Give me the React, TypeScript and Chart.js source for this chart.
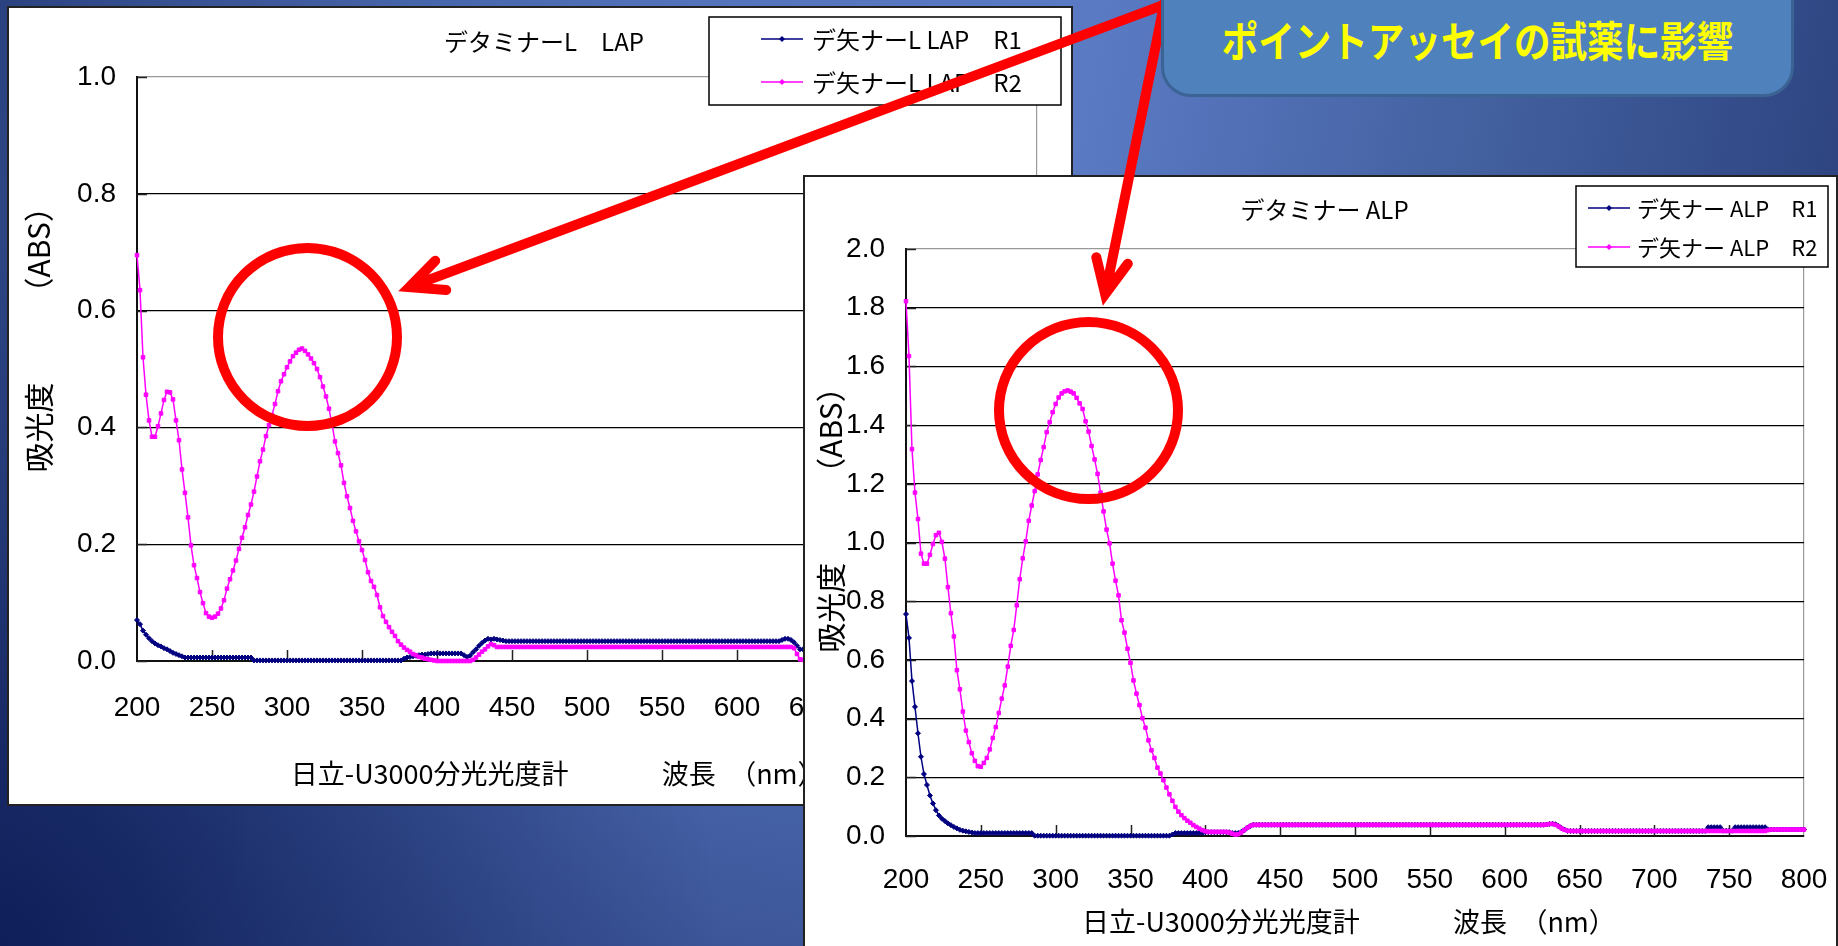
import React, { useEffect, useRef } from "react";
import { Chart, registerables } from "chart.js";

Chart.register(...registerables);

// ---------------- data ----------------
const wavelengths = [
  200, 202, 204, 206, 208, 210, 212, 214, 216, 218,
  220, 222, 224, 226, 228, 230, 232, 234, 236, 238,
  240, 242, 244, 246, 248, 250, 252, 254, 256, 258,
  260, 262, 264, 266, 268, 270, 272, 274, 276, 278,
  280, 282, 284, 286, 288, 290, 292, 294, 296, 298,
  300, 302, 304, 306, 308, 310, 312, 314, 316, 318,
  320, 322, 324, 326, 328, 330, 332, 334, 336, 338,
  340, 342, 344, 346, 348, 350, 352, 354, 356, 358,
  360, 362, 364, 366, 368, 370, 372, 374, 376, 378,
  380, 382, 384, 386, 388, 390, 392, 394, 396, 398,
  400, 402, 404, 406, 408, 410, 412, 414, 416, 418,
  420, 422, 424, 426, 428, 430, 432, 434, 436, 438,
  440, 442, 444, 446, 448, 450, 452, 454, 456, 458,
  460, 462, 464, 466, 468, 470, 472, 474, 476, 478,
  480, 482, 484, 486, 488, 490, 492, 494, 496, 498,
  500, 502, 504, 506, 508, 510, 512, 514, 516, 518,
  520, 522, 524, 526, 528, 530, 532, 534, 536, 538,
  540, 542, 544, 546, 548, 550, 552, 554, 556, 558,
  560, 562, 564, 566, 568, 570, 572, 574, 576, 578,
  580, 582, 584, 586, 588, 590, 592, 594, 596, 598,
  600, 602, 604, 606, 608, 610, 612, 614, 616, 618,
  620, 622, 624, 626, 628, 630, 632, 634, 636, 638,
  640, 642, 644, 646, 648, 650, 652, 654, 656, 658,
  660, 662, 664, 666, 668, 670, 672, 674, 676, 678,
  680, 682, 684, 686, 688, 690, 692, 694, 696, 698,
  700, 702, 704, 706, 708, 710, 712, 714, 716, 718,
  720, 722, 724, 726, 728, 730, 732, 734, 736, 738,
  740, 742, 744, 746, 748, 750, 752, 754, 756, 758,
  760, 762, 764, 766, 768, 770, 772, 774, 776, 778,
  780, 782, 784, 786, 788, 790, 792, 794, 796, 798,
  800,
];

const lapR1 = [
  0.070, 0.063, 0.052, 0.045, 0.039, 0.034, 0.030, 0.027, 0.025, 0.022,
  0.020, 0.017, 0.014, 0.012, 0.010, 0.008, 0.006, 0.006, 0.006, 0.006,
  0.006, 0.006, 0.006, 0.006, 0.006, 0.006, 0.006, 0.006, 0.006, 0.006,
  0.006, 0.006, 0.006, 0.006, 0.006, 0.006, 0.006, 0.006, 0.006, 0.001,
  0.001, 0.001, 0.001, 0.001, 0.001, 0.001, 0.001, 0.001, 0.001, 0.001,
  0.001, 0.001, 0.001, 0.001, 0.001, 0.001, 0.001, 0.001, 0.001, 0.001,
  0.001, 0.001, 0.001, 0.001, 0.001, 0.001, 0.001, 0.001, 0.001, 0.001,
  0.001, 0.001, 0.001, 0.001, 0.001, 0.001, 0.001, 0.001, 0.001, 0.001,
  0.001, 0.001, 0.001, 0.001, 0.001, 0.001, 0.001, 0.001, 0.001, 0.004,
  0.006, 0.007, 0.008, 0.009, 0.010, 0.011, 0.011, 0.012, 0.013, 0.013,
  0.013, 0.013, 0.013, 0.013, 0.013, 0.013, 0.013, 0.013, 0.013, 0.010,
  0.007, 0.009, 0.015, 0.020, 0.026, 0.031, 0.035, 0.038, 0.037, 0.038,
  0.037, 0.036, 0.035, 0.034, 0.034, 0.034, 0.034, 0.034, 0.034, 0.034,
  0.034, 0.034, 0.034, 0.034, 0.034, 0.034, 0.034, 0.034, 0.034, 0.034,
  0.034, 0.034, 0.034, 0.034, 0.034, 0.034, 0.034, 0.034, 0.034, 0.034,
  0.034, 0.034, 0.034, 0.034, 0.034, 0.034, 0.034, 0.034, 0.034, 0.034,
  0.034, 0.034, 0.034, 0.034, 0.034, 0.034, 0.034, 0.034, 0.034, 0.034,
  0.034, 0.034, 0.034, 0.034, 0.034, 0.034, 0.034, 0.034, 0.034, 0.034,
  0.034, 0.034, 0.034, 0.034, 0.034, 0.034, 0.034, 0.034, 0.034, 0.034,
  0.034, 0.034, 0.034, 0.034, 0.034, 0.034, 0.034, 0.034, 0.034, 0.034,
  0.034, 0.034, 0.034, 0.034, 0.034, 0.034, 0.034, 0.034, 0.034, 0.034,
  0.034, 0.034, 0.034, 0.034, 0.034, 0.036, 0.038, 0.038, 0.036, 0.032,
  0.026, 0.020, 0.020, 0.020, 0.020, 0.020, 0.020, 0.020, 0.020, 0.020,
  0.020, 0.020, 0.020, 0.020, 0.020, 0.020, 0.020, 0.020, 0.020, 0.020,
  0.020, 0.020, 0.020, 0.020, 0.020, 0.020, 0.020, 0.020, 0.020, 0.020,
  0.020, 0.020, 0.020, 0.020, 0.020, 0.020, 0.020, 0.020, 0.020, 0.020,
  0.020, 0.020, 0.020, 0.020, 0.020, 0.020, 0.020, 0.020, 0.020, 0.020,
  0.020, 0.020, 0.020, 0.020, 0.020, 0.020, 0.020, 0.020, 0.020, 0.020,
  0.020, 0.020, 0.020, 0.020, 0.020, 0.020, 0.020, 0.020, 0.020, 0.020,
  0.020, 0.020, 0.020, 0.020, 0.020, 0.020, 0.020, 0.020, 0.020, 0.020,
  0.020,
];

const lapR2 = [
  0.695, 0.635, 0.520, 0.456, 0.412, 0.384, 0.384, 0.402, 0.424, 0.447,
  0.461, 0.460, 0.448, 0.412, 0.378, 0.328, 0.288, 0.246, 0.198, 0.164,
  0.142, 0.118, 0.099, 0.082, 0.076, 0.074, 0.076, 0.081, 0.090, 0.104,
  0.124, 0.140, 0.155, 0.172, 0.192, 0.211, 0.229, 0.250, 0.268, 0.290,
  0.316, 0.342, 0.362, 0.385, 0.404, 0.421, 0.440, 0.462, 0.479, 0.491,
  0.503, 0.513, 0.522, 0.528, 0.533, 0.535, 0.531, 0.525, 0.518, 0.510,
  0.500, 0.486, 0.470, 0.453, 0.432, 0.405, 0.376, 0.356, 0.335, 0.305,
  0.282, 0.262, 0.240, 0.222, 0.205, 0.190, 0.173, 0.152, 0.137, 0.127,
  0.113, 0.092, 0.077, 0.067, 0.058, 0.050, 0.043, 0.034, 0.028, 0.023,
  0.019, 0.016, 0.012, 0.010, 0.007, 0.006, 0.004, 0.003, 0.002, 0.001,
  0.000, 0.000, 0.000, 0.000, 0.000, 0.000, 0.000, 0.000, 0.000, 0.000,
  0.000, 0.000, 0.002, 0.006, 0.011, 0.016, 0.020, 0.025, 0.029, 0.027,
  0.024, 0.024, 0.024, 0.024, 0.024, 0.024, 0.024, 0.024, 0.024, 0.024,
  0.024, 0.024, 0.024, 0.024, 0.024, 0.024, 0.024, 0.024, 0.024, 0.024,
  0.024, 0.024, 0.024, 0.024, 0.024, 0.024, 0.024, 0.024, 0.024, 0.024,
  0.024, 0.024, 0.024, 0.024, 0.024, 0.024, 0.024, 0.024, 0.024, 0.024,
  0.024, 0.024, 0.024, 0.024, 0.024, 0.024, 0.024, 0.024, 0.024, 0.024,
  0.024, 0.024, 0.024, 0.024, 0.024, 0.024, 0.024, 0.024, 0.024, 0.024,
  0.024, 0.024, 0.024, 0.024, 0.024, 0.024, 0.024, 0.024, 0.024, 0.024,
  0.024, 0.024, 0.024, 0.024, 0.024, 0.024, 0.024, 0.024, 0.024, 0.024,
  0.024, 0.024, 0.024, 0.024, 0.024, 0.024, 0.024, 0.024, 0.024, 0.024,
  0.024, 0.024, 0.024, 0.024, 0.024, 0.024, 0.024, 0.024, 0.024, 0.022,
  0.012, 0.003, 0.002, 0.002, 0.002, 0.002, 0.002, 0.002, 0.002, 0.002,
  0.002, 0.002, 0.002, 0.002, 0.002, 0.002, 0.002, 0.002, 0.002, 0.002,
  0.002, 0.002, 0.002, 0.002, 0.002, 0.002, 0.002, 0.002, 0.002, 0.002,
  0.002, 0.002, 0.002, 0.002, 0.002, 0.002, 0.002, 0.002, 0.002, 0.002,
  0.002, 0.002, 0.002, 0.002, 0.002, 0.002, 0.002, 0.002, 0.002, 0.002,
  0.002, 0.002, 0.002, 0.002, 0.002, 0.002, 0.002, 0.002, 0.002, 0.002,
  0.002, 0.002, 0.002, 0.002, 0.002, 0.002, 0.002, 0.002, 0.002, 0.002,
  0.002, 0.002, 0.002, 0.002, 0.002, 0.002, 0.002, 0.002, 0.002, 0.002,
  0.002,
];

const alpR1 = [
  0.756, 0.675, 0.528, 0.440, 0.350, 0.270, 0.211, 0.174, 0.138, 0.111,
  0.088, 0.070, 0.059, 0.051, 0.043, 0.037, 0.031, 0.026, 0.021, 0.018,
  0.016, 0.014, 0.012, 0.010, 0.010, 0.010, 0.010, 0.010, 0.010, 0.010,
  0.010, 0.010, 0.010, 0.010, 0.010, 0.010, 0.010, 0.010, 0.010, 0.010,
  0.010, 0.010, 0.010, 0.001, 0.001, 0.001, 0.001, 0.001, 0.001, 0.001,
  0.001, 0.001, 0.001, 0.001, 0.001, 0.001, 0.001, 0.001, 0.001, 0.001,
  0.001, 0.001, 0.001, 0.001, 0.001, 0.001, 0.001, 0.001, 0.001, 0.001,
  0.001, 0.001, 0.001, 0.001, 0.001, 0.001, 0.001, 0.001, 0.001, 0.001,
  0.001, 0.001, 0.001, 0.001, 0.001, 0.001, 0.001, 0.001, 0.001, 0.005,
  0.010, 0.010, 0.010, 0.010, 0.010, 0.010, 0.010, 0.010, 0.010, 0.010,
  0.013, 0.013, 0.013, 0.013, 0.013, 0.013, 0.013, 0.013, 0.013, 0.010,
  0.010, 0.010, 0.014, 0.020, 0.028, 0.034, 0.038, 0.038, 0.038, 0.038,
  0.038, 0.038, 0.038, 0.038, 0.038, 0.038, 0.038, 0.038, 0.038, 0.038,
  0.038, 0.038, 0.038, 0.038, 0.038, 0.038, 0.038, 0.038, 0.038, 0.038,
  0.038, 0.038, 0.038, 0.038, 0.038, 0.038, 0.038, 0.038, 0.038, 0.038,
  0.038, 0.038, 0.038, 0.038, 0.038, 0.038, 0.038, 0.038, 0.038, 0.038,
  0.038, 0.038, 0.038, 0.038, 0.038, 0.038, 0.038, 0.038, 0.038, 0.038,
  0.038, 0.038, 0.038, 0.038, 0.038, 0.038, 0.038, 0.038, 0.038, 0.038,
  0.038, 0.038, 0.038, 0.038, 0.038, 0.038, 0.038, 0.038, 0.038, 0.038,
  0.038, 0.038, 0.038, 0.038, 0.038, 0.038, 0.038, 0.038, 0.038, 0.038,
  0.038, 0.038, 0.038, 0.038, 0.038, 0.038, 0.038, 0.038, 0.038, 0.038,
  0.038, 0.038, 0.038, 0.038, 0.039, 0.041, 0.042, 0.040, 0.034, 0.027,
  0.022, 0.017, 0.017, 0.017, 0.017, 0.017, 0.017, 0.017, 0.017, 0.017,
  0.017, 0.017, 0.017, 0.017, 0.017, 0.017, 0.017, 0.017, 0.017, 0.017,
  0.017, 0.017, 0.017, 0.017, 0.017, 0.017, 0.017, 0.017, 0.017, 0.017,
  0.017, 0.017, 0.017, 0.017, 0.017, 0.017, 0.017, 0.017, 0.017, 0.017,
  0.017, 0.017, 0.017, 0.017, 0.017, 0.017, 0.017, 0.017, 0.030, 0.030,
  0.030, 0.030, 0.030, 0.018, 0.018, 0.018, 0.018, 0.030, 0.030, 0.030,
  0.030, 0.030, 0.030, 0.030, 0.030, 0.030, 0.030, 0.030, 0.022, 0.022,
  0.022, 0.022, 0.022, 0.022, 0.022, 0.022, 0.022, 0.022, 0.022, 0.022,
  0.022,
];

const alpR2 = [
  1.822, 1.635, 1.318, 1.170, 1.080, 0.962, 0.928, 0.928, 0.958, 0.995,
  1.025, 1.033, 1.002, 0.945, 0.848, 0.759, 0.680, 0.565, 0.500, 0.424,
  0.359, 0.320, 0.282, 0.256, 0.238, 0.236, 0.249, 0.266, 0.295, 0.334,
  0.371, 0.419, 0.468, 0.513, 0.577, 0.648, 0.702, 0.786, 0.875, 0.946,
  1.004, 1.074, 1.126, 1.175, 1.232, 1.281, 1.325, 1.376, 1.410, 1.444,
  1.472, 1.494, 1.508, 1.515, 1.518, 1.514, 1.508, 1.493, 1.474, 1.455,
  1.413, 1.378, 1.329, 1.283, 1.234, 1.170, 1.106, 1.044, 0.997, 0.928,
  0.870, 0.820, 0.735, 0.693, 0.638, 0.590, 0.530, 0.485, 0.446, 0.401,
  0.369, 0.326, 0.292, 0.266, 0.233, 0.213, 0.190, 0.165, 0.142, 0.120,
  0.099, 0.083, 0.071, 0.061, 0.052, 0.045, 0.037, 0.031, 0.025, 0.020,
  0.016, 0.014, 0.014, 0.014, 0.014, 0.014, 0.014, 0.014, 0.012, 0.008,
  0.005, 0.006, 0.012, 0.020, 0.028, 0.034, 0.038, 0.038, 0.038, 0.038,
  0.038, 0.038, 0.038, 0.038, 0.038, 0.038, 0.038, 0.038, 0.038, 0.038,
  0.038, 0.038, 0.038, 0.038, 0.038, 0.038, 0.038, 0.038, 0.038, 0.038,
  0.038, 0.038, 0.038, 0.038, 0.038, 0.038, 0.038, 0.038, 0.038, 0.038,
  0.038, 0.038, 0.038, 0.038, 0.038, 0.038, 0.038, 0.038, 0.038, 0.038,
  0.038, 0.038, 0.038, 0.038, 0.038, 0.038, 0.038, 0.038, 0.038, 0.038,
  0.038, 0.038, 0.038, 0.038, 0.038, 0.038, 0.038, 0.038, 0.038, 0.038,
  0.038, 0.038, 0.038, 0.038, 0.038, 0.038, 0.038, 0.038, 0.038, 0.038,
  0.038, 0.038, 0.038, 0.038, 0.038, 0.038, 0.038, 0.038, 0.038, 0.038,
  0.038, 0.038, 0.038, 0.038, 0.038, 0.038, 0.038, 0.038, 0.038, 0.038,
  0.038, 0.038, 0.038, 0.038, 0.039, 0.041, 0.041, 0.038, 0.033, 0.026,
  0.021, 0.018, 0.017, 0.017, 0.017, 0.017, 0.017, 0.017, 0.017, 0.017,
  0.017, 0.017, 0.017, 0.017, 0.017, 0.017, 0.017, 0.017, 0.017, 0.017,
  0.017, 0.017, 0.017, 0.017, 0.017, 0.017, 0.017, 0.017, 0.017, 0.017,
  0.017, 0.017, 0.017, 0.017, 0.017, 0.017, 0.017, 0.017, 0.017, 0.017,
  0.017, 0.017, 0.017, 0.017, 0.017, 0.017, 0.017, 0.017, 0.017, 0.017,
  0.017, 0.017, 0.017, 0.017, 0.017, 0.017, 0.017, 0.017, 0.017, 0.017,
  0.017, 0.017, 0.017, 0.017, 0.017, 0.017, 0.017, 0.017, 0.020, 0.022,
  0.022, 0.022, 0.022, 0.022, 0.022, 0.022, 0.022, 0.022, 0.022, 0.022,
  0.022,
];

const xTicks = [200, 250, 300, 350, 400, 450, 500, 550, 600, 650, 700, 750, 800];
const lapYTicks = [0, 0.2, 0.4, 0.6, 0.8, 1.0];
const alpYTicks = [0, 0.2, 0.4, 0.6, 0.8, 1.0, 1.2, 1.4, 1.6, 1.8, 2.0];

const lapTitle = "デタミナーL　LAP";
const alpTitle = "デタミナー ALP";
const lapLabels = ["デ矢ナーL LAP　R1", "デ矢ナーL LAP　R2"];
const alpLabels = ["デ矢ナー ALP　R1", "デ矢ナー ALP　R2"];
const xAxisTitle = "日立-U3000分光光度計　　　  波長　（nm）";
const yAxisTitle = "吸光度　　　（ABS）";
const calloutText = "ポイントアッセイの試薬に影響";

// ---------------- styling ----------------
const JP = "'Noto Sans CJK JP', 'Noto Sans', sans-serif";
const NUM = "'Liberation Sans Narrow', 'Liberation Sans', Arial, sans-serif";
const NAVY = "#000080";
const MAGENTA = "#FF00FF";

Chart.defaults.font.family = JP;

const boxLegend = {
  id: "boxLegend",
  afterDraw(chart: any, _args: any, opts: any) {
    if (!opts || !opts.box) return;
    const { ctx } = chart;
    const b = opts.box;
    ctx.save();
    ctx.fillStyle = "#fff";
    ctx.fillRect(b.x, b.y, b.w, b.h);
    ctx.strokeStyle = "#000";
    ctx.lineWidth = 1.5;
    ctx.strokeRect(b.x, b.y, b.w, b.h);
    ctx.font = `${opts.fontSize}px ${JP}`;
    ctx.textBaseline = "middle";
    ctx.textAlign = "left";
    chart.data.datasets.forEach((ds: any, i: number) => {
      const yy = opts.rows[i];
      ctx.strokeStyle = ds.borderColor;
      ctx.lineWidth = 1.5;
      ctx.beginPath();
      ctx.moveTo(opts.lineX1, yy);
      ctx.lineTo(opts.lineX2, yy);
      ctx.stroke();
      const cx = (opts.lineX1 + opts.lineX2) / 2;
      const r = 3;
      ctx.fillStyle = ds.borderColor;
      ctx.beginPath();
      ctx.moveTo(cx, yy - r);
      ctx.lineTo(cx + r, yy);
      ctx.lineTo(cx, yy + r);
      ctx.lineTo(cx - r, yy);
      ctx.closePath();
      ctx.fill();
      ctx.fillStyle = "#000";
      ctx.fillText(ds.label, opts.textX, yy + 1);
    });
    ctx.restore();
  },
};

const innerTicks = {
  id: "innerTicks",
  beforeDatasetsDraw(chart: any) {
    const { ctx, chartArea: a, scales } = chart;
    const x = scales.x;
    const y = scales.y;
    ctx.save();
    ctx.strokeStyle = "#222";
    ctx.lineWidth = 1.5;
    ctx.beginPath();
    x.ticks.forEach((t: any) => {
      const px = Math.round(x.getPixelForValue(t.value)) + 0.5;
      if (px > a.left + 2 && px < a.right - 2) {
        ctx.moveTo(px, a.bottom);
        ctx.lineTo(px, a.bottom - 11);
      }
    });
    y.ticks.forEach((t: any) => {
      const py = Math.round(y.getPixelForValue(t.value)) + 0.5;
      ctx.moveTo(a.left, py);
      ctx.lineTo(a.left + 10, py);
    });
    ctx.stroke();
    ctx.restore();
  },
};

function makeConfig(p: any) {
  const mk = (label: string, values: number[], color: string, style: string, order: number) => ({
    label,
    data: wavelengths.map((w, i) => ({ x: w, y: values[i] })),
    borderColor: color,
    backgroundColor: color,
    pointBackgroundColor: color,
    pointBorderColor: color,
    pointStyle: style,
    pointRadius: 2.5,
    pointBorderWidth: 1,
    pointHoverRadius: 0,
    borderWidth: 1.5,
    tension: 0,
    clip: false,
    order,
  });
  return {
    type: "line",
    data: {
      datasets: [
        mk(p.labels[0], p.r1, NAVY, "rectRot", 1),
        mk(p.labels[1], p.r2, MAGENTA, "rect", 0),
      ],
    },
    options: {
      responsive: false,
      animation: false,
      devicePixelRatio: 1,
      events: [],
      layout: { padding: { left: p.padLeft, right: p.padRight, top: 0, bottom: 0 } },
      plugins: {
        legend: { display: false },
        tooltip: { enabled: false },
        title: {
          display: true,
          text: p.title,
          color: "#000",
          font: { family: JP, size: 24, weight: "normal" },
          padding: { top: p.titleTop, bottom: p.titleBottom },
        },
        boxLegend: p.legend,
      },
      scales: {
        x: {
          type: "linear",
          min: 200,
          max: 800,
          afterBuildTicks: (s: any) => {
            s.ticks = xTicks.map((v) => ({ value: v }));
          },
          afterFit: (s: any) => {
            s.height = p.xHeight;
            s.paddingLeft = 0;
            s.paddingRight = 0;
          },
          grid: {
            drawTicks: false,
            lineWidth: 1.2,
            color: (c: any) => (c.tick && c.tick.value === 800 ? "#999" : "rgba(0,0,0,0)"),
          },
          border: { display: true, color: "#111", width: 2 },
          ticks: {
            padding: p.xTickPad,
            color: "#000",
            autoSkip: false,
            maxRotation: 0,
            font: { family: NUM, size: 28 },
            callback: (v: any) => String(v),
          },
          title: {
            display: true,
            text: xAxisTitle + p.xPad,
            color: "#000",
            font: { family: JP, size: 27 },
            padding: { top: 0, bottom: p.xTitleBottom },
          },
        },
        y: {
          type: "linear",
          min: 0,
          max: p.yMax,
          afterBuildTicks: (s: any) => {
            s.ticks = p.yTicks.map((v: number) => ({ value: v }));
          },
          afterFit: (s: any) => {
            s.width = p.yWidth;
          },
          grid: {
            drawTicks: false,
            lineWidth: 1.2,
            color: (c: any) => (c.tick && Math.abs(c.tick.value - p.yMax) < 1e-9 ? "#999" : "#000"),
          },
          border: { display: true, color: "#111", width: 2 },
          ticks: {
            padding: 21,
            color: "#000",
            font: { family: NUM, size: 28 },
            callback: (v: any) => Number(v).toFixed(1),
          },
          title: {
            display: true,
            text: p.yPad + yAxisTitle,
            color: "#000",
            font: { family: JP, size: 30 },
            padding: { top: p.yTitleTop, bottom: 0 },
          },
        },
      },
    },
    plugins: [boxLegend, innerTicks],
  };
}

const lapCfg = {
  r1: lapR1,
  r2: lapR2,
  labels: lapLabels,
  title: lapTitle,
  yMax: 1.0,
  yTicks: lapYTicks,
  padLeft: 42,
  padRight: 34,
  yWidth: 86,
  xHeight: 143,
  titleTop: 19.6,
  titleBottom: 20.6,
  xTickPad: 30,
  xTitleBottom: 14,
  xPad: "　　   ",
  yPad: "　　  ",
  yTitleTop: -30,
  legend: {
    box: { x: 700, y: 9, w: 352, h: 88 },
    rows: [31, 74],
    lineX1: 752,
    lineX2: 794,
    textX: 803,
    fontSize: 24,
  },
};

const alpCfg = {
  r1: alpR1,
  r2: alpR2,
  labels: alpLabels,
  title: alpTitle,
  yMax: 2.0,
  yTicks: alpYTicks,
  padLeft: 40,
  padRight: 32,
  yWidth: 61,
  xHeight: 110,
  titleTop: 18.6,
  titleBottom: 24.6,
  xTickPad: 27,
  xTitleBottom: 8,
  xPad: "  ",
  yPad: "　　",
  yTitleTop: -32,
  legend: {
    box: { x: 771, y: 9, w: 252, h: 81 },
    rows: [31, 70],
    lineX1: 783,
    lineX2: 825,
    textX: 832,
    fontSize: 22,
  },
};

function SpectrumChart({ cfg, width, height }: any) {
  const ref = useRef<HTMLCanvasElement>(null);
  useEffect(() => {
    const chart = new Chart(ref.current as HTMLCanvasElement, makeConfig(cfg) as any);
    return () => chart.destroy();
  }, []);
  return (
    <canvas
      ref={ref}
      width={width}
      height={height}
      style={{ position: "absolute", left: 0, top: 0, width, height }}
    />
  );
}

function arrowPath(sx: number, sy: number, tx: number, ty: number, arm: number, angDeg: number) {
  const dx = sx - tx;
  const dy = sy - ty;
  const len = Math.hypot(dx, dy);
  const ux = dx / len;
  const uy = dy / len;
  const vx = tx + ux * 11;
  const vy = ty + uy * 11;
  const phi = Math.atan2(uy, ux);
  const a = (angDeg * Math.PI) / 180;
  const p1x = vx + arm * Math.cos(phi - a);
  const p1y = vy + arm * Math.sin(phi - a);
  const p2x = vx + arm * Math.cos(phi + a);
  const p2y = vy + arm * Math.sin(phi + a);
  return `M ${sx} ${sy} L ${vx} ${vy} M ${p1x} ${p1y} L ${vx} ${vy} L ${p2x} ${p2y}`;
}

export default function App() {
  return (
    <div
      style={{
        position: "fixed",
        left: 0,
        top: 0,
        width: 1838,
        height: 946,
        overflow: "hidden",
        background:
          "radial-gradient(circle 720px at 0px 946px, rgba(8,22,80,0.78), rgba(8,22,80,0) 100%)," +
          "linear-gradient(to bottom, rgba(10,25,80,0) 55%, rgba(10,25,80,0.35) 100%)," +
          "linear-gradient(100deg, #2b4280 0%, #4664a8 20%, #5473bb 35%, #5a7ac4 55%, #43609f 75%, #263b76 100%)",
      }}
    >
      {/* left chart panel */}
      <div
        style={{
          position: "absolute",
          left: 7,
          top: 6,
          width: 1066,
          height: 800,
          border: "2px solid #222",
          background: "#fff",
          boxSizing: "border-box",
        }}
      >
        <SpectrumChart cfg={lapCfg} width={1062} height={796} />
      </div>

      {/* right chart panel */}
      <div
        style={{
          position: "absolute",
          left: 803,
          top: 175,
          width: 1035,
          height: 800,
          border: "2px solid #222",
          background: "#fff",
          boxSizing: "border-box",
        }}
      >
        <SpectrumChart cfg={alpCfg} width={1031} height={769} />
      </div>

      {/* red annotations */}
      <svg
        width={1838}
        height={946}
        style={{ position: "absolute", left: 0, top: 0, pointerEvents: "none" }}
      >
        <ellipse cx={307.5} cy={337} rx={89.5} ry={89} fill="none" stroke="#FF0000" strokeWidth={10} />
        <ellipse cx={1088.5} cy={410.5} rx={89.5} ry={88.5} fill="none" stroke="#FF0000" strokeWidth={10} />
        <path
          d={arrowPath(1166, 4, 399, 291, 37, 25)}
          fill="none"
          stroke="#FF0000"
          strokeWidth={10}
          strokeLinecap="round"
          strokeLinejoin="miter"
          strokeMiterlimit={10}
        />
        <path
          d={arrowPath(1165, 0, 1103, 305, 38, 25)}
          fill="none"
          stroke="#FF0000"
          strokeWidth={10}
          strokeLinecap="round"
          strokeLinejoin="miter"
          strokeMiterlimit={10}
        />
      </svg>

      {/* callout box */}
      <div
        style={{
          position: "absolute",
          left: 1161,
          top: -40,
          width: 633,
          height: 137,
          boxSizing: "border-box",
          border: "3px solid #3b6394",
          borderRadius: 30,
          background: "#4f81bd",
        }}
      />
      <div
        style={{
          position: "absolute",
          left: 1161,
          top: 9,
          width: 633,
          height: 60,
          lineHeight: "60px",
          textAlign: "center",
          color: "#ffff00",
          fontFamily: JP,
          fontWeight: 700,
          fontSize: 42,
          whiteSpace: "nowrap",
          transform: "scaleX(0.87)",
        }}
      >
        {calloutText}
      </div>
    </div>
  );
}
